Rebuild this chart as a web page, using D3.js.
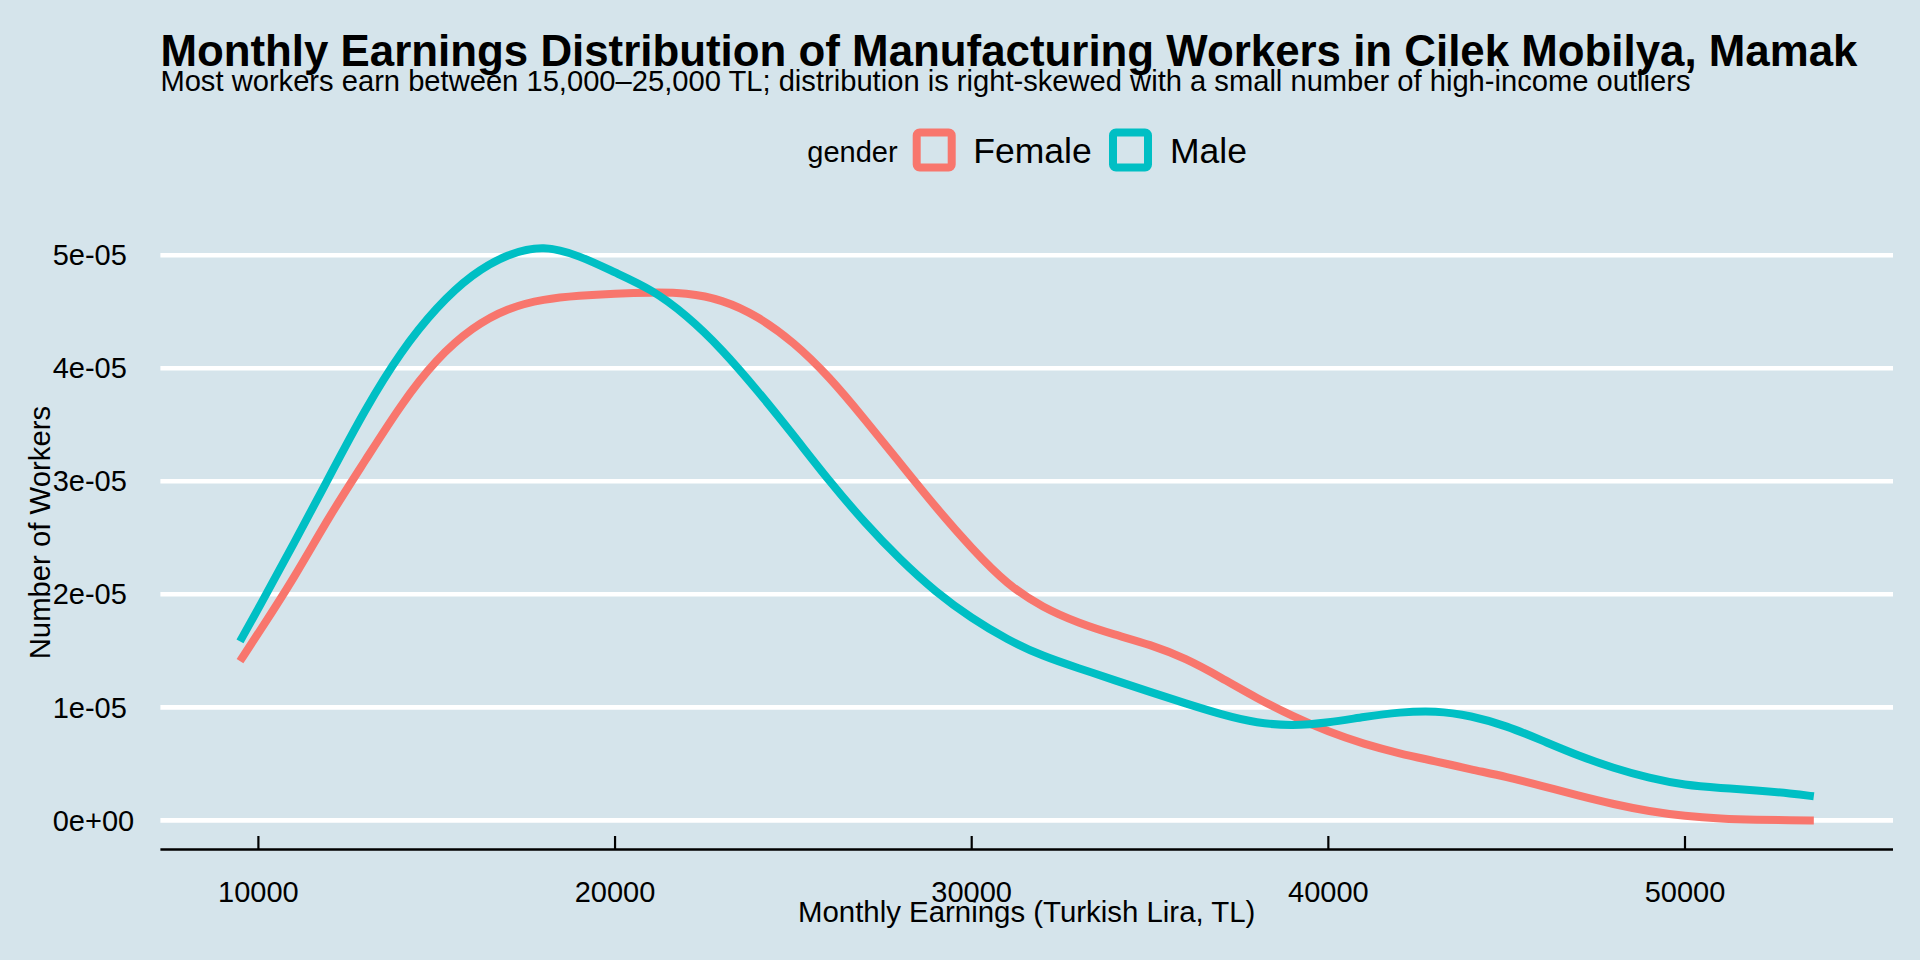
<!DOCTYPE html>
<html>
<head>
<meta charset="utf-8">
<script src="https://cdn.jsdelivr.net/npm/d3@7/dist/d3.min.js"></script>
<style>
  html, body { margin: 0; padding: 0; background: #d5e4eb; }
  svg { display: block; }
  text { font-family: "Liberation Sans", Arial, sans-serif; fill: #000; }
</style>
</head>
<body>
<svg id="chart" width="1920" height="960"></svg>
<script>
// ---- Data ----
const earnings = [9484, 10000, 11000, 12000, 13000, 14000, 15000, 16000, 17000, 18000, 19000,
  20000, 21000, 22000, 23000, 24000, 25000, 26000, 27000, 28000, 29000, 30000, 31000, 32000,
  33000, 34000, 35000, 36000, 37000, 38000, 39000, 40000, 41000, 42000, 43000, 44000, 45000,
  46000, 47000, 48000, 49000, 50000, 51000, 52000, 53000, 53612];

// density values in units of 1e-05
const femaleDensity = [1.409, 1.657, 2.143, 2.699, 3.185, 3.682, 4.087, 4.364, 4.535, 4.612, 4.643,
  4.661, 4.671, 4.668, 4.608, 4.462, 4.234, 3.927, 3.549, 3.157, 2.766, 2.406, 2.084, 1.881,
  1.745, 1.643, 1.556, 1.434, 1.262, 1.080, 0.920, 0.783, 0.675, 0.591, 0.524, 0.451, 0.385,
  0.304, 0.220, 0.143, 0.080, 0.038, 0.014, 0.004, 0.001, 0.000];

const maleDensity = [1.584, 1.874, 2.451, 3.049, 3.643, 4.152, 4.545, 4.837, 5.014, 5.090, 4.997,
  4.846, 4.703, 4.472, 4.168, 3.801, 3.409, 3.003, 2.633, 2.304, 2.017, 1.787, 1.598, 1.451,
  1.346, 1.241, 1.136, 1.035, 0.937, 0.860, 0.836, 0.864, 0.916, 0.958, 0.972, 0.927, 0.836,
  0.706, 0.573, 0.462, 0.374, 0.311, 0.287, 0.266, 0.238, 0.213];

const genders = ["Female", "Male"];
const genderColors = ["#F8766D", "#00BFC4"];

const xTicks = [10000, 20000, 30000, 40000, 50000];
const xTickLabels = ["10000", "20000", "30000", "40000", "50000"];
const yTicks = [0, 1e-5, 2e-5, 3e-5, 4e-5, 5e-5];
const yTickLabels = ["0e+00", "1e-05", "2e-05", "3e-05", "4e-05", "5e-05"];

const titleText = "Monthly Earnings Distribution of Manufacturing Workers in Cilek Mobilya, Mamak";
const subtitleText = "Most workers earn between 15,000\u201325,000 TL; distribution is right-skewed with a small number of high-income outliers";
const xTitle = "Monthly Earnings (Turkish Lira, TL)";
const yTitle = "Number of Workers";
const legendTitle = "gender";

// ---- Layout ----
const panel = { left: 160.4, right: 1893, top: 211, bottom: 849.5 };

const svg = d3.select("#chart");
svg.append("rect").attr("width", 1920).attr("height", 960).attr("fill", "#d5e4eb");

const x = d3.scaleLinear().domain([10000, 50000]).range([258.4, 1685]);
const y = d3.scaleLinear().domain([0, 5e-5]).range([820.4, 255.2]);

// gridlines
svg.append("g").selectAll("line").data(yTicks).join("line")
  .attr("x1", panel.left).attr("x2", panel.right)
  .attr("y1", d => y(d)).attr("y2", d => y(d))
  .attr("stroke", "#ffffff").attr("stroke-width", 4.6);

// y tick labels (left-aligned)
svg.append("g").selectAll("text").data(yTicks).join("text")
  .attr("x", 52.7).attr("y", d => y(d))
  .attr("dy", "0.35em")
  .attr("font-size", 29)
  .text((d, i) => yTickLabels[i]);

// x axis
const xAxisG = svg.append("g");
xAxisG.append("line")
  .attr("x1", panel.left).attr("x2", panel.right)
  .attr("y1", panel.bottom).attr("y2", panel.bottom)
  .attr("stroke", "#000").attr("stroke-width", 2.3);
xAxisG.selectAll("line.tick").data(xTicks).join("line")
  .attr("class", "tick")
  .attr("x1", d => x(d)).attr("x2", d => x(d))
  .attr("y1", panel.bottom).attr("y2", panel.bottom - 13.5)
  .attr("stroke", "#000").attr("stroke-width", 2.2);
xAxisG.selectAll("text").data(xTicks).join("text")
  .attr("x", d => x(d)).attr("y", 901.7)
  .attr("text-anchor", "middle")
  .attr("font-size", 29)
  .text((d, i) => xTickLabels[i]);

// density lines
const series = [femaleDensity, maleDensity];
const line = d3.line()
  .x(d => x(d[0]))
  .y(d => y(d[1] * 1e-5))
  .curve(d3.curveBasis);

svg.append("g").selectAll("path").data(series).join("path")
  .attr("d", vals => line(earnings.map((e, i) => [e, vals[i]])))
  .attr("fill", "none")
  .attr("stroke", (d, i) => genderColors[i])
  .attr("stroke-width", 8)
  .attr("stroke-linecap", "butt")
  .attr("stroke-linejoin", "round");

// titles
svg.append("text").attr("x", 160.4).attr("y", 66)
  .attr("font-size", 43.85).attr("font-weight", "bold").text(titleText);
svg.append("text").attr("x", 160.4).attr("y", 91)
  .attr("font-size", 29.15).text(subtitleText);

svg.append("text").attr("x", (panel.left + panel.right) / 2).attr("y", 921.7)
  .attr("text-anchor", "middle").attr("font-size", 29.4).text(xTitle);
svg.append("text")
  .attr("transform", `translate(50,532.6) rotate(-90)`)
  .attr("text-anchor", "middle").attr("font-size", 29.3).text(yTitle);

// legend
const lg = svg.append("g");
lg.append("text").attr("x", 807.3).attr("y", 162).attr("font-size", 29).text(legendTitle);
const keyX = [916.7, 1113];
const labelX = [973.3, 1170];
genders.forEach((g, i) => {
  lg.append("rect")
    .attr("x", keyX[i]).attr("y", 132.5)
    .attr("width", 35).attr("height", 35)
    .attr("rx", 3).attr("ry", 3)
    .attr("fill", "#d5e4eb")
    .attr("stroke", genderColors[i]).attr("stroke-width", 8);
  lg.append("text").attr("x", labelX[i]).attr("y", 163.3)
    .attr("font-size", 35.5).text(g);
});
</script>
</body>
</html>
